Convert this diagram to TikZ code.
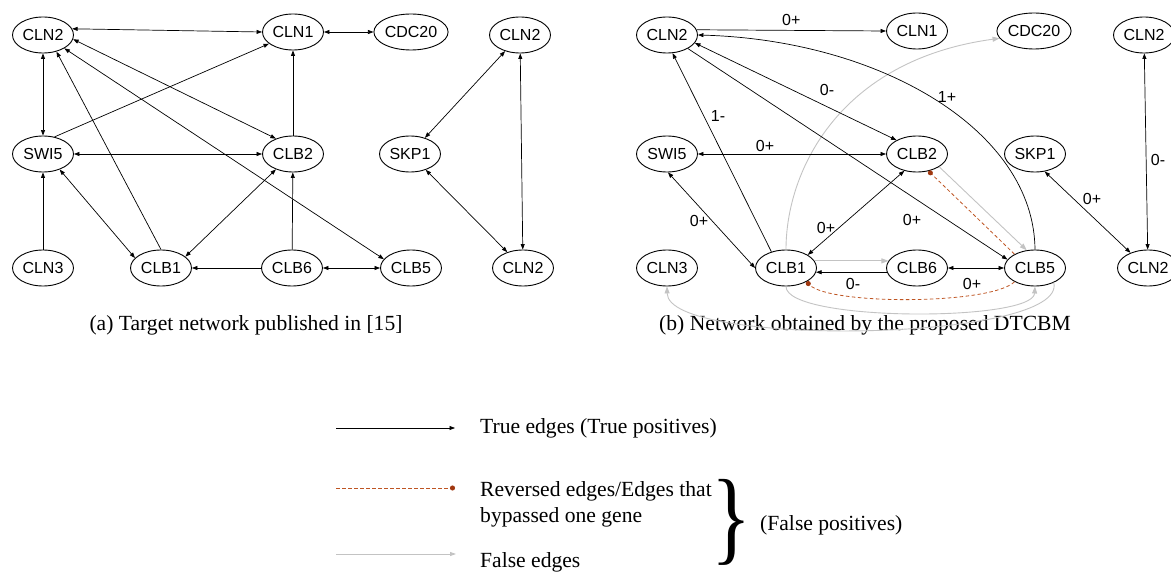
\documentclass[tikz,border=0pt]{standalone}
\usepackage{fontspec}
\setmainfont{Liberation Serif}
\newfontfamily\arialfont{Liberation Sans}
\usepackage{graphicx}
\usetikzlibrary{arrows.meta,shapes.geometric,calc}

\definecolor{edgebrown}{RGB}{190,85,35}
\definecolor{dotbrown}{RGB}{160,55,15}
\definecolor{falsegray}{RGB}{195,195,195}

\begin{document}
\begin{tikzpicture}[x=1pt,y=-1pt,
 gene/.style={ellipse,draw,line width=0.9pt,minimum width=61pt,minimum height=36pt,inner sep=0pt,font=\arialfont\fontsize{16}{18}\selectfont},
 arr/.style={line width=0.7pt,-{Triangle[length=5.5pt,width=4pt]}},
 barr/.style={line width=0.7pt,{Triangle[length=5.5pt,width=4pt]}-{Triangle[length=5.5pt,width=4pt]}},
 falsearr/.style={falsegray,line width=0.9pt,-{Triangle[length=7pt,width=5pt]}},
 revarr/.style={edgebrown,line width=0.8pt,dash pattern=on 3.5pt off 2.5pt,-{Circle[length=5pt,color=dotbrown,fill=dotbrown]}},
 lab/.style={font=\arialfont\fontsize{16}{18}\selectfont,inner sep=0pt},
 txt/.style={font=\fontsize{21.6}{26}\selectfont,inner sep=0pt},
]
\useasboundingbox (0,0) rectangle (1171,572);
\clip (0,0) rectangle (1171,572);

% ---------- (a) target network ----------
\node[gene] (CLN2a)  at (43,35)   {CLN2};
\node[gene] (CLN1a)  at (293,32)  {CLN1};
\node[gene] (CDC20a) at (411,32)  {CDC20};
\node[gene] (CLN2ra) at (520,35)  {CLN2};
\node[gene] (SWI5a)  at (43,154)  {SWI5};
\node[gene] (CLB2a)  at (293,154) {CLB2};
\node[gene] (SKP1a)  at (410,154) {SKP1};
\node[gene] (CLN3a)  at (43,268)  {CLN3};
\node[gene] (CLB1a)  at (161,268) {CLB1};
\node[gene] (CLB6a)  at (292,268) {CLB6};
\node[gene] (CLB5a)  at (411,268) {CLB5};
\node[gene] (CLN2rba) at (523,268) {CLN2};

\draw[barr] (CLN2a.12) -- (CLN1a.west);
\draw[barr] (CLN1a) -- (CDC20a);
\draw[barr] (CLN2a) -- (SWI5a);
\draw[arr]  (SWI5a.56) -- (CLN1a.206);
\draw[barr] (CLN2a.-8) -- (CLB2a.138);
\draw[barr] (CLN2a.-32) -- (CLB5a.162);
\draw[arr]  (CLB2a) -- (CLN1a);
\draw[barr] (SWI5a) -- (CLB2a);
\draw[barr] (SWI5a.-43) -- (CLB1a.159);
\draw[arr]  (CLN3a) -- (SWI5a);
\draw[arr]  (CLB1a.north) -- (CLN2a.-51);
\draw[barr] (CLB1a.25) -- (CLB2a.222);
\draw[arr]  (CLB6a) -- (CLB1a);
\draw[arr]  (CLB6a) -- (CLB2a);
\draw[barr] (CLB6a) -- (CLB5a);
\draw[barr] (SKP1a) -- (CLN2ra);
\draw[barr] (SKP1a) -- (CLN2rba);
\draw[barr] (CLN2ra) -- (CLN2rba);

\node[txt] (capa) at (246,325) {(a) Target network published in [15]};

% ---------- (b) obtained network ----------
\node[gene] (CLN2b)  at (667,35)   {CLN2};
\node[gene] (CLN1b)  at (917,31)   {CLN1};
\node[gene] (CDC20b) at (1034,31)  {CDC20};
\node[gene] (CLN2rb) at (1144,35)  {CLN2};
\node[gene] (SWI5b)  at (667,154)  {SWI5};
\node[gene] (CLB2b)  at (917,154)  {CLB2};
\node[gene] (SKP1b)  at (1035,154) {SKP1};
\node[gene] (CLN3b)  at (667,268)  {CLN3};
\node[gene] (CLB1b)  at (786,268)  {CLB1};
\node[gene] (CLB6b)  at (917,268)  {CLB6};
\node[gene] (CLB5b)  at (1035,268) {CLB5};
\node[gene] (CLN2rbb) at (1148,268) {CLN2};

\node[txt] (capb) at (865,325) {(b) Network obtained by the proposed DTCBM};

% false edges (gray)
\draw[falsearr] (CLB1b.north) .. controls (786,170) and (840,60) .. (CDC20b.192);
\draw[falsearr] (CLB1b.14) -- (CLB6b.166);
\draw[falsearr] (CLB2b.-30) -- (CLB5b.115);
\draw[falsearr] (CLB1b.south) .. controls (786,322) and (1033,322) .. (CLB5b.south);
\draw[falsearr] (CLB5b.-38) .. controls (1068,342) and (668,348) .. (CLN3b.south);

% reversed / bypass edges (brown dashed)
\draw[revarr] (CLB5b.146) -- (CLB2b.-56);
\draw[revarr] (CLB5b.214) .. controls (990,305) and (830,305) .. (CLB1b.-34);

% true edges
\draw[arr]  (CLN2b.10) -- (CLN1b.180) node[lab,pos=0.5,above=4pt] {0+};
\draw[arr]  (CLB5b.north) .. controls (1034,130) and (880,40) .. (CLN2b.east);
\node[lab] (l1p) at (947,97) {1+};
\draw[barr] (CLN2b.-16) -- (CLB2b.146);
\node[lab] (l0m) at (827,90) {0-};
\draw[arr]  (CLN2b.-33) -- (CLB5b.163);
\node[lab] (l0pa) at (912,220) {0+};
\draw[barr] (SWI5b) -- (CLB2b);
\node[lab] (l0pb) at (765,146) {0+};
\draw[arr]  (CLB1b.132) -- (CLN2b.-73);
\node[lab] (l1m) at (718,116) {1-};
\draw[barr] (SWI5b.-87) -- (CLB1b.west);
\node[lab] (l0pc) at (699,221) {0+};
\draw[barr] (CLB2b.233) -- (CLB1b.31);
\node[lab] (l0pd) at (826,228) {0+};
\draw[arr]  (CLB6b.188) -- (CLB1b.-8);
\node[lab] (l0mb) at (853,284) {0-};
\draw[barr] (CLB6b) -- (CLB5b);
\node[lab] (l0pe) at (972,284) {0+};
\draw[barr] (SKP1b.-61) -- (CLN2rbb.139);
\node[lab] (l0pf) at (1092,199) {0+};
\draw[barr] (CLN2rb) -- (CLN2rbb);
\node[lab] (l0mc) at (1158,160) {0-};

% ---------- legend ----------
\coordinate (t1) at (336,428); \coordinate (t2) at (455,428);
\coordinate (r1) at (336,488); \coordinate (r2) at (455,488);
\coordinate (f1) at (336,554); \coordinate (f2) at (456,554);
\draw[arr] (t1) -- (t2);
\draw[revarr] (r1) -- (r2);
\draw[falsearr,line width=0.8pt,-{Triangle[length=6pt,width=4pt]}] (f1) -- (f2);
\node[txt,anchor=west] (lt) at (480,428) {True edges (True positives)};
\node[txt,anchor=west,align=left] (lr) at (480,504) {Reversed edges/Edges that\\bypassed one gene};
\node[txt,anchor=west] (lf) at (480,562) {False edges};
\node[inner sep=0pt] (brace) at (732,522) {\resizebox*{40pt}{86pt}{\}}};
\node[txt,anchor=west] (lfp) at (760,525) {(False positives)};
\end{tikzpicture}
\end{document}
